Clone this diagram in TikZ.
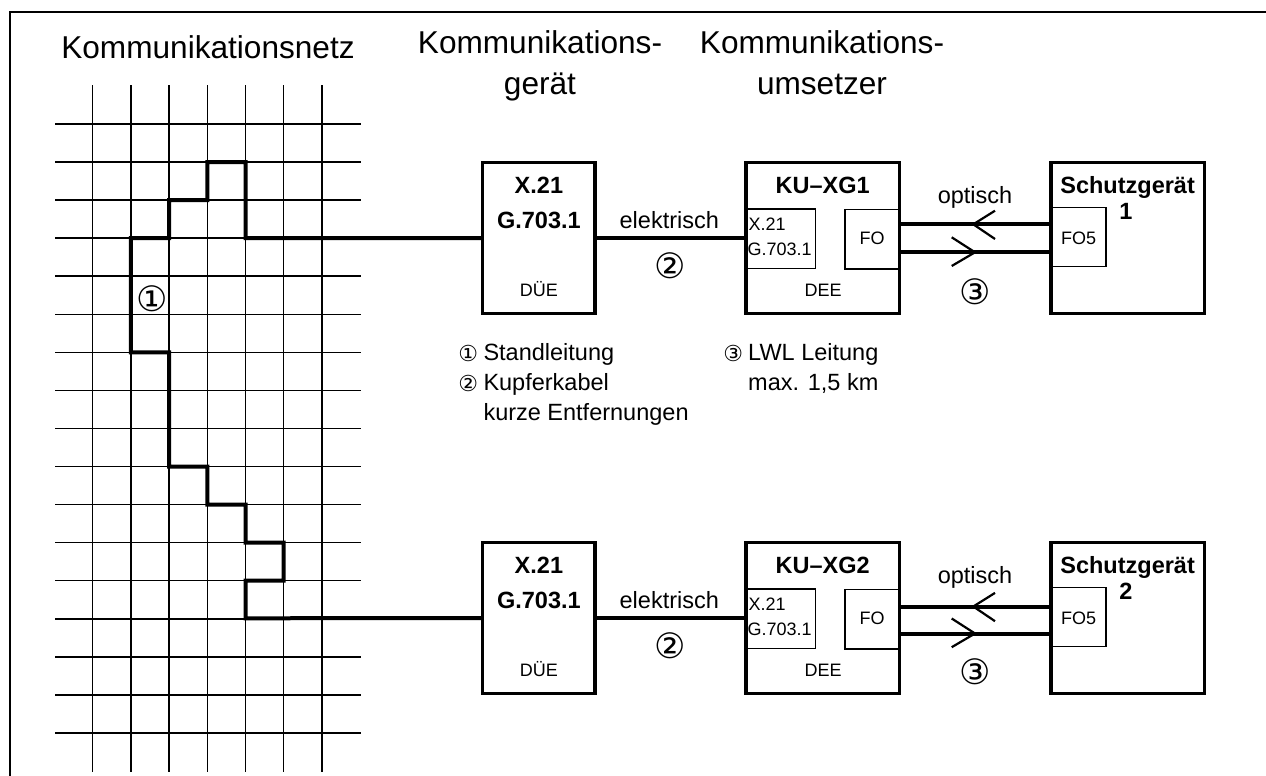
\documentclass[tikz,border=0pt]{standalone}
\usepackage{fontspec}
\setmainfont{Liberation Sans}
\newfontfamily\symfont{DejaVu Sans}
\begin{document}
\begin{tikzpicture}[x=1pt,y=-1pt,
  frame/.style={line width=2.5pt},
  gridline/.style={line width=1.5pt},
  route/.style={line width=4pt},
  box/.style={draw,line width=3.2pt,rectangle,inner sep=0pt},
  ibox/.style={draw,line width=1.5pt,rectangle,inner sep=0pt},
  chev/.style={line width=2.2pt},
  hdr/.style={font=\fontsize{31.6}{41}\selectfont,align=center,inner sep=0pt},
  txt/.style={font=\fontsize{23.5}{28}\selectfont,inner sep=0pt,anchor=base},
  btxt/.style={font=\fontsize{23.5}{26}\selectfont\bfseries,inner sep=0pt,anchor=base},
  stxt/.style={font=\fontsize{18}{22}\selectfont,inner sep=0pt,anchor=base},
  cnum/.style={font=\fontsize{35}{35}\selectfont\symfont,inner sep=0pt},
  lnum/.style={font=\fontsize{22}{22}\selectfont\symfont,inner sep=0pt}]
\useasboundingbox (0,0) rectangle (1266,776);
% frame
\draw[frame] (10,776) -- (10,12) -- (1266,12);
% headers
\node[hdr,anchor=base] (h1) at (208,59) {Kommunikationsnetz};
\node[hdr,anchor=base] (h2) at (540,95) {Kommunikations-\\gerät};
\node[hdr,anchor=base] (h3) at (822,95) {Kommunikations-\\umsetzer};
% grid
\foreach \k in {0,...,16}{\draw[gridline] (55,124+38.06*\k) -- (360.7,124+38.06*\k);}
\foreach \k in {0,...,6}{\draw[gridline] (92.7+38.2*\k,85) -- (92.7+38.2*\k,771.7);}
% boxes, both rows
\foreach \r/\o/\ya/\yb in {1/0/224.3/252.3, 2/380/606.5/633.5}{
  \node[box,minimum width=112.3pt,minimum height=150.6pt] (due\r) at (538.9,238+\o) {};
  \node[box,minimum width=153.3pt,minimum height=150.6pt] (ku\r) at (822.6,238+\o) {};
  \node[box,minimum width=153.3pt,minimum height=151.5pt] (sg\r) at (1127.6,238+\o) {};
  \node[ibox,minimum width=69.7pt,minimum height=59.3pt] (kx\r) at (780.85,238.7+\o) {};
  \node[ibox,minimum width=54.3pt,minimum height=59.7pt] (fo\r) at (872.15,239.2+\o) {};
  \node[ibox,minimum width=55pt,minimum height=59pt] (fof\r) at (1078.5,237.2+\o) {};
  % texts
  \node[btxt] (dx\r) at (538.9,193.3+\o) {X.21};
  \node[btxt] (dg\r) at (538.9,228.3+\o) {G.703.1};
  \node[stxt] (dd\r) at (538.9,296.7+\o) {DÜE};
  \node[btxt] (kt\r) at (822.6,193.3+\o) {KU–XG\r};
  \node[stxt,anchor=base west] (kxa\r) at (748.5,230+\o) {X.21};
  \node[stxt,anchor=base west] (kxb\r) at (747.5,255+\o) {G.703.1};
  \node[stxt] (kd\r) at (823,296.7+\o) {DEE};
  \node[stxt] (fot\r) at (872.15,244.5+\o) {FO};
  \node[stxt] (fft\r) at (1078.5,244+\o) {FO5};
  \node[btxt] (sgt\r) at (1127.6,193.3+\o) {Schutzgerät};
  \node[btxt] (sgn\r) at (1126,219.3+\o) {\r};
  \node[txt] (el\r) at (669.3,228.3+\o) {elektrisch};
  \node[cnum] (n2\r) at (670,266+\o) {②};
  \node[txt] (op\r) at (975,203.3+\o) {optisch};
  \node[cnum] (n3\r) at (975,291.7+\o) {③};
  % connectors
  \draw[route] (due\r.east) -- (ku\r.west);
  \draw[route] (fo\r.east |- 0,\ya) -- (sg\r.west |- 0,\ya);
  \draw[route] (fo\r.east |- 0,\yb) -- (sg\r.west |- 0,\yb);
  \draw[chev] (995,\ya-13.6) -- (973.3,\ya) -- (995,\ya+14.7);
  \draw[chev] (951.7,\yb-15) -- (975,\yb) -- (951.7,\yb+13.7);
}
% route through network
\draw[route] (due1.west) -- (245.5,238.2) -- (245.5,162.1) -- (207.3,162.1) -- (207.3,200.1)
  -- (169.1,200.1) -- (169.1,238.2) -- (130.9,238.2) -- (130.9,352.4) -- (169.1,352.4)
  -- (169.1,466.5) -- (207.3,466.5) -- (207.3,504.6) -- (245.5,504.6) -- (245.5,542.7)
  -- (283.7,542.7) -- (283.7,580.7) -- (245.5,580.7) -- (245.5,618.3) -- (due2.west);
\node[cnum] (n1) at (152,298.3) {①};
% legend
\node[lnum] (l1) at (468.3,353.3) {①};
\node[txt,anchor=base west] (l1t) at (483.3,360.7) {Standleitung};
\node[lnum] (l2) at (468.3,383.3) {②};
\node[txt,anchor=base west] (l2t) at (483.3,390.7) {Kupferkabel};
\node[txt,anchor=base west] (l2u) at (483.3,420) {kurze Entfernungen};
\node[lnum] (l3) at (733.3,353.3) {③};
\node[txt,anchor=base west] (l3t) at (748,360.7) {LWL Leitung};
\node[txt,anchor=base west] (l3u) at (748,390.7) {max. 1,5 km};
\end{tikzpicture}
\end{document}
